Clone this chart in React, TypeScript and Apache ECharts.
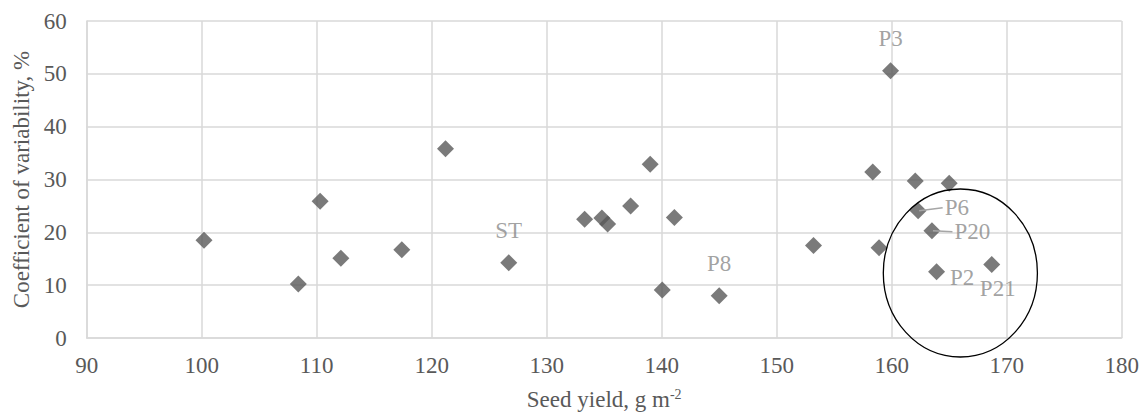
import React, { useEffect, useRef } from "react";
import * as echarts from "echarts";

const seedYield = [100.2, 108.4, 110.3, 112.1, 117.4, 121.2, 126.7, 133.3, 134.8, 135.3, 137.3, 139.0, 140.05, 141.1, 145.0, 153.2, 158.35, 158.9, 159.9, 162.05, 162.3, 163.5, 163.9, 165.0, 168.7];
const cv = [18.5, 10.2, 25.9, 15.1, 16.7, 35.8, 14.25, 22.5, 22.7, 21.6, 25.0, 32.9, 9.1, 22.8, 8.0, 17.5, 31.4, 17.1, 50.6, 29.7, 24.1, 20.3, 12.55, 29.3, 13.9];
const pointNames = ["", "", "", "", "", "", "ST", "", "", "", "", "", "", "", "P8", "", "", "", "P3", "", "P6", "P20", "P2", "", "P21"];

const xTicks = { min: 90, max: 180, interval: 10 };
const yTicks = { min: 0, max: 60, interval: 10 };

const FONT = "Liberation Serif, serif";
const LABEL_COLOR = "#8a8a8a";

const labelStyles: Record<string, any> = {
  ST: { position: "top", distance: 12 },
  P8: { position: "top", distance: 12 },
  P3: { position: "top", distance: 12 },
  P6: { position: "right", distance: 18, offset: [0, -3] },
  P20: { position: "right", distance: 14, offset: [0, 1] },
  P2: { position: "right", distance: 5, offset: [0, 6] },
  P21: { position: "bottom", distance: 4, offset: [6, 0] },
};

const leaderLabels = ["P6", "P20"];
const ellipseAnno = { cx: 165.97, cy: 12.3, rx: 6.7, ry: 15.9 };

export default function App() {
  const ref = useRef<HTMLDivElement>(null);
  useEffect(() => {
    if (!ref.current) return;
    const chart = echarts.init(ref.current, undefined, { renderer: "svg" });
    const data = seedYield.map((x, i) => {
      const name = pointNames[i];
      const item: any = { value: [x, cv[i]], name };
      if (name) {
        item.label = {
          show: true,
          formatter: name,
          color: LABEL_COLOR,
          fontSize: 23,
          fontFamily: FONT,
          ...labelStyles[name],
        };
      }
      return item;
    });
    chart.setOption({
      animation: false,
      textStyle: { fontFamily: FONT },
      grid: { left: 86.7, right: 20.3, top: 21, bottom: 74, containLabel: false, outerBoundsMode: "none" },
      xAxis: {
        type: "value",
        min: xTicks.min,
        max: xTicks.max,
        interval: xTicks.interval,
        name: "Seed yield, g m{sup|-2}",
        nameLocation: "middle",
        nameGap: 49,
        nameTextStyle: {
          fontSize: 23,
          fontFamily: FONT,
          color: "#595959",
          rich: {
            sup: { fontSize: 14, fontFamily: FONT, color: "#595959", verticalAlign: "top", padding: [0, 0, 10, 0] },
          },
        },
        axisLine: { show: true, lineStyle: { color: "#d9d9d9", width: 1.5 } },
        axisTick: { show: false },
        axisLabel: { fontSize: 23, fontFamily: FONT, color: "#595959", margin: 16 },
        splitLine: { show: true, lineStyle: { color: "#d9d9d9", width: 1.5 } },
      },
      yAxis: {
        type: "value",
        min: yTicks.min,
        max: yTicks.max,
        interval: yTicks.interval,
        name: "Coefficient of variability, %",
        nameLocation: "middle",
        nameRotate: 90,
        nameGap: 52,
        nameTextStyle: { fontSize: 23, fontFamily: FONT, color: "#595959" },
        axisLine: { show: true, lineStyle: { color: "#d9d9d9", width: 1.5 } },
        axisTick: { show: false },
        axisLabel: { fontSize: 23, fontFamily: FONT, color: "#595959", margin: 20 },
        splitLine: { show: true, lineStyle: { color: "#d9d9d9", width: 1.5 } },
      },
      series: [
        {
          type: "scatter",
          symbol: "diamond",
          symbolSize: 17,
          itemStyle: { color: "#595959" },
          data,
        },
      ],
    });

    const toPx = (p: number[]) => chart.convertToPixel({ gridIndex: 0 }, p) as number[];
    const c = toPx([ellipseAnno.cx, ellipseAnno.cy]);
    const r = toPx([ellipseAnno.cx + ellipseAnno.rx, ellipseAnno.cy + ellipseAnno.ry]);
    const graphics: any[] = [
      {
        type: "ellipse",
        shape: { cx: c[0], cy: c[1], rx: Math.abs(r[0] - c[0]), ry: Math.abs(c[1] - r[1]) },
        style: { fill: "none", stroke: "#000", lineWidth: 1.3 },
        z: 10,
      },
    ];
    leaderLabels.forEach((nm) => {
      const i = pointNames.indexOf(nm);
      const p = toPx([seedYield[i], cv[i]]);
      const ls = labelStyles[nm];
      const endX = p[0] + 8.5 + ls.distance - 2;
      const endY = p[1] + (ls.offset ? ls.offset[1] : 0);
      graphics.push({
        type: "line",
        shape: { x1: p[0] + 1, y1: p[1], x2: endX, y2: endY },
        style: { stroke: "#a6a6a6", lineWidth: 1.5 },
        z: 10,
      });
    });
    chart.setOption({ graphic: graphics });
    return () => chart.dispose();
  }, []);
  return <div ref={ref} style={{ width: 1142, height: 412, position: "absolute", left: 0, top: 0 }} />;
}
